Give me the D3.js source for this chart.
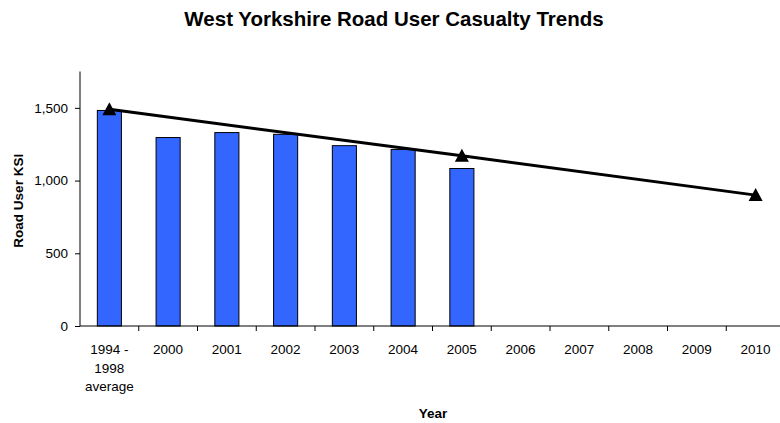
<!DOCTYPE html>
<html>
<head>
<meta charset="utf-8">
<script src="https://cdn.jsdelivr.net/npm/d3@7"></script>
<style>
  html, body { margin: 0; padding: 0; background: #fff; }
  svg { display: block; font-family: "Liberation Sans", Arial, sans-serif; }
</style>
</head>
<body>
<svg id="chart" width="780" height="423"></svg>
<script>
// ---- data ----
const categories = ["1994 - 1998 average", "2000", "2001", "2002", "2003", "2004", "2005", "2006", "2007", "2008", "2009", "2010"];
const casualties = [1482, 1296, 1330, 1318, 1240, 1214, 1083, null, null, null, null, null];
const target = [1490, null, null, null, null, null, 1170, null, null, null, null, 900];
const yTicks = [0, 500, 1000, 1500];
const yMax = 1750;

const svg = d3.select("#chart");
const W = 780, H = 423;
const m = { left: 80, right: -5, top: 71.5, bottom: 97 };
const iw = W - m.left - m.right, ih = H - m.top - m.bottom;

const x = d3.scaleBand().domain(categories).range([m.left, m.left + iw]).paddingInner(0.59).paddingOuter(0.295);
const xb = d3.scaleBand().domain(categories).range([m.left, m.left + iw]);
const y = d3.scaleLinear().domain([0, yMax]).range([m.top + ih, m.top]);

// title
svg.append("text")
  .attr("x", 394).attr("y", 26)
  .attr("text-anchor", "middle")
  .attr("font-size", 20.5).attr("font-weight", "bold")
  .text("West Yorkshire Road User Casualty Trends");

// bars
const barData = categories.map((c, i) => ({ c, v: casualties[i] })).filter(d => d.v != null);
svg.append("g").selectAll("rect").data(barData).join("rect")
  .attr("x", d => x(d.c))
  .attr("y", d => y(d.v))
  .attr("width", x.bandwidth())
  .attr("height", d => y(0) - y(d.v))
  .attr("fill", "#3366ff")
  .attr("stroke", "#000")
  .attr("stroke-width", 1);

// y axis
const yAxis = d3.axisLeft(y).tickValues(yTicks).tickSize(5).tickPadding(7).tickFormat(d3.format(","));
const gy = svg.append("g").attr("transform", `translate(${m.left},0)`).call(yAxis);
gy.select(".domain").attr("d", `M0,${y(yMax)}V${y(0)}`).attr("stroke", "#000");
gy.selectAll("text").attr("font-size", 13.5).attr("fill", "#000").attr("font-family", "Liberation Sans, Arial, sans-serif");

// x axis
const gx = svg.append("g").attr("transform", `translate(0,${y(0)})`);
gx.append("line").attr("x1", m.left).attr("x2", m.left + iw).attr("y1", 0).attr("y2", 0).attr("stroke", "#000");
gx.selectAll("line.tick").data(categories.slice(1)).join("line").attr("class", "tick")
  .attr("x1", d => xb(d)).attr("x2", d => xb(d)).attr("y1", 0).attr("y2", 5).attr("stroke", "#000");
const labels = gx.selectAll("text").data(categories).join("text")
  .attr("x", d => xb(d) + xb.bandwidth() / 2)
  .attr("y", 28)
  .attr("text-anchor", "middle")
  .attr("font-size", 13.5);
labels.each(function(d) {
  const t = d3.select(this);
  const parts = d === categories[0] ? ["1994 -", "1998", "average"] : [d];
  parts.forEach((p, i) => t.append("tspan").attr("x", xb(d) + xb.bandwidth() / 2).attr("dy", i === 0 ? 0 : 18.5).text(p));
});

// target line
const lineData = categories.map((c, i) => ({ c, v: target[i] })).filter(d => d.v != null);
const cx = d => xb(d.c) + xb.bandwidth() / 2;
svg.append("path")
  .datum(lineData)
  .attr("fill", "none").attr("stroke", "#000").attr("stroke-width", 3)
  .attr("d", d3.line().x(cx).y(d => y(d.v)));
svg.append("g").selectAll("path").data(lineData).join("path")
  .attr("transform", d => `translate(${cx(d)},${y(d.v)})`)
  .attr("d", "M0,-7L7,6L-7,6Z")
  .attr("fill", "#000");

// axis titles
svg.append("text")
  .attr("transform", `translate(23,${(y(0) + y(yMax)) / 2 + 2}) rotate(-90)`)
  .attr("text-anchor", "middle")
  .attr("font-size", 13.5).attr("font-weight", "bold")
  .text("Road User KSI");
svg.append("text")
  .attr("x", 433).attr("y", 418)
  .attr("text-anchor", "middle")
  .attr("font-size", 13.5).attr("font-weight", "bold")
  .text("Year");
</script>
</body>
</html>
